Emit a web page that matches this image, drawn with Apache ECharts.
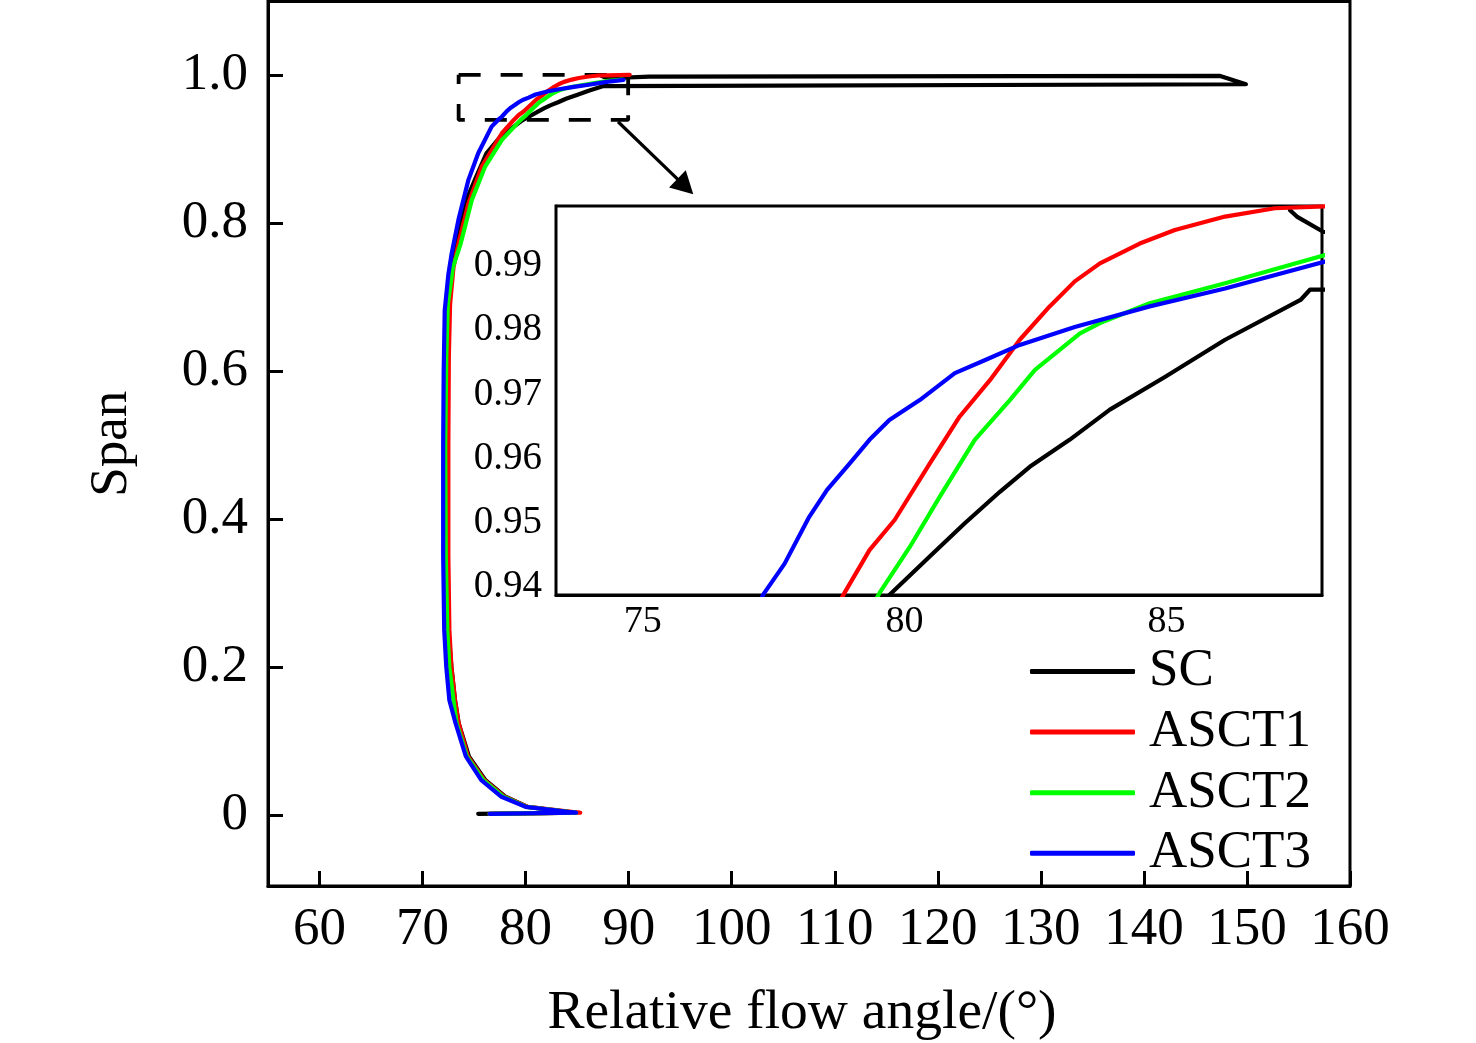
<!DOCTYPE html>
<html><head><meta charset="utf-8">
<script src="https://cdn.jsdelivr.net/npm/echarts@6/dist/echarts.min.js"></script>
<style>html,body{margin:0;padding:0;background:#fff}#c{width:1476px;height:1043px}</style>
</head><body><div id="c"></div>
<script>
// ---------- data ----------
const seriesNames = ['SC', 'ASCT1', 'ASCT2', 'ASCT3'];
const seriesColors = ['#000000', '#ff0000', '#00ff00', '#0000ff'];

const scAngle = [75.4, 84.8, 80.2, 78.0, 76.1, 74.5, 73.5, 73.15, 72.8, 72.5, 72.4, 72.4, 72.4, 72.5, 72.9, 73.3, 74.1, 75.2, 76.2, 77.6, 79.71, 80.48, 81.15, 81.82, 82.39, 83.15, 83.92, 84.97, 86.12, 87.56, 87.74, 149.9, 147.4, 92.0, 88.0, 87.49, 87.36];
const scSpan  = [0.0015, 0.003, 0.011, 0.025, 0.047, 0.079, 0.124, 0.155, 0.2, 0.25, 0.35, 0.5, 0.62, 0.69, 0.74, 0.772, 0.826, 0.862, 0.894, 0.917, 0.9387, 0.9447, 0.9499, 0.9548, 0.9587, 0.9629, 0.9676, 0.9727, 0.9785, 0.9847, 0.9863, 0.9872, 0.9985, 0.9975, 0.9953, 0.9977, 0.9987];

const asct1Angle = [76.5, 85.3, 80.2, 77.9, 76.0, 74.4, 73.5, 73.15, 72.8, 72.6, 72.5, 72.5, 72.55, 72.67, 73.0, 73.48, 74.45, 75.75, 77.7, 78.85, 79.33, 79.81, 80.48, 81.05, 81.63, 82.20, 82.77, 83.25, 83.73, 84.49, 85.16, 86.12, 87.07, 88.03, 90.1];
const asct1Span  = [0.0015, 0.003, 0.011, 0.025, 0.047, 0.079, 0.124, 0.155, 0.2, 0.25, 0.35, 0.5, 0.62, 0.69, 0.74, 0.772, 0.826, 0.876, 0.921, 0.939, 0.9457, 0.9504, 0.9592, 0.9665, 0.9722, 0.9785, 0.9837, 0.9876, 0.9904, 0.9935, 0.9956, 0.9977, 0.9990, 0.9993, 1.0];

const asct2Angle = [76.5, 84.9, 80.1, 77.8, 75.9, 74.3, 73.3, 73.0, 72.6, 72.4, 72.25, 72.2, 72.3, 72.45, 72.95, 73.7, 74.78, 76.07, 77.7, 79.52, 80.10, 80.67, 81.34, 82.01, 82.49, 83.35, 83.73, 84.68, 86.12, 88.03, 89.4];
const asct2Span  = [0.0015, 0.003, 0.011, 0.025, 0.047, 0.079, 0.124, 0.155, 0.2, 0.25, 0.35, 0.5, 0.62, 0.69, 0.74, 0.772, 0.831, 0.876, 0.912, 0.939, 0.9462, 0.954, 0.9629, 0.9691, 0.9738, 0.9795, 0.9811, 0.9842, 0.9873, 0.9917, 0.9935];

const asct3Angle = [76.5, 84.9, 80.0, 77.6, 75.7, 74.2, 73.2, 72.6, 72.3, 72.1, 72.0, 72.0, 72.05, 72.15, 72.5, 72.83, 73.48, 74.45, 75.4, 76.7, 77.32, 77.71, 78.18, 78.52, 78.95, 79.33, 79.71, 80.29, 80.96, 81.53, 82.20, 83.25, 84.68, 86.12, 88.03, 89.5];
const asct3Span  = [0.0015, 0.003, 0.011, 0.025, 0.047, 0.079, 0.124, 0.155, 0.2, 0.25, 0.35, 0.5, 0.6, 0.682, 0.73, 0.759, 0.804, 0.858, 0.894, 0.930, 0.939, 0.9436, 0.9509, 0.9551, 0.9592, 0.9629, 0.966, 0.9691, 0.9733, 0.9753, 0.9777, 0.9805, 0.9837, 0.9865, 0.9907, 0.9932];

const mainXTicks = [60, 70, 80, 90, 100, 110, 120, 130, 140, 150, 160];
const mainYTicks = [0, 0.2, 0.4, 0.6, 0.8, 1.0];
const insetXTicks = [75, 80, 85];
const insetYTicks = [0.94, 0.95, 0.96, 0.97, 0.98, 0.99];

const zoomBoxX = [73.5, 89.95];
const zoomBoxY = [0.939, 1.0];
const arrowFrom = [88.97, 0.9365];
const arrowTo = [95.5, 0.849];

// ---------- build ----------
const FONT = 'Liberation Serif';
const allAngles = [scAngle, asct1Angle, asct2Angle, asct3Angle];
const allSpans = [scSpan, asct1Span, asct2Span, asct3Span];
const pairs = (a, s) => a.map((v, i) => [v, s[i]]);

const series = [];
[0, 1].forEach(function (g) {
  seriesNames.forEach(function (name, k) {
    series.push({
      type: 'line', name: name, xAxisIndex: g, yAxisIndex: g,
      data: pairs(allAngles[k], allSpans[k]),
      symbol: 'none', showSymbol: false, clip: true, silent: true,
      lineStyle: { color: seriesColors[k], width: 4.2, cap: 'round', join: 'round' },
      itemStyle: { color: seriesColors[k] },
      emphasis: { disabled: true },
      z: 3 + k
    });
  });
});
series.push({
  type: 'line', name: 'zoomBox', xAxisIndex: 0, yAxisIndex: 0,
  data: [[zoomBoxX[0], zoomBoxY[1]], [zoomBoxX[1], zoomBoxY[1]], [zoomBoxX[1], zoomBoxY[0]], [zoomBoxX[0], zoomBoxY[0]], [zoomBoxX[0], zoomBoxY[1]]],
  symbol: 'none', silent: true,
  lineStyle: { color: '#000', width: 3.8, type: [22, 20] },
  emphasis: { disabled: true },
  z: 2,
  markLine: {
    silent: true, symbol: ['none', 'triangle'], symbolSize: [24, 22],
    label: { show: false },
    lineStyle: { color: '#000', width: 3.2, type: 'solid' },
    emphasis: { disabled: true },
    animation: false,
    data: [[{ coord: arrowFrom }, { coord: arrowTo }]]
  }
});

const chart = echarts.init(document.getElementById('c'), null, { renderer: 'canvas' });
chart.setOption({
  animation: false,
  backgroundColor: '#fff',
  legend: {
    data: seriesNames, orient: 'vertical', left: 1030, top: 645, padding: 0,
    icon: 'roundRect', itemWidth: 105, itemHeight: 5, itemGap: 7.6,
    itemStyle: { borderWidth: 0 },
    textStyle: { fontFamily: FONT, fontSize: 53, color: '#000', lineHeight: 50, padding: [0, 0, 0, 9] },
    selectedMode: false
  },
  grid: [
    { left: 268, top: 1.5, width: 1082, height: 884.5, show: true, borderColor: '#000', borderWidth: 3, backgroundColor: 'transparent', containLabel: false, outerBoundsMode: 'none' },
    { left: 556, top: 206, width: 766, height: 389, show: true, borderColor: '#000', borderWidth: 3, backgroundColor: '#fff', containLabel: false, outerBoundsMode: 'none', z: 1 }
  ],
  xAxis: [
    {
      type: 'value', gridIndex: 0, min: 55, max: 160,
      name: 'Relative flow angle/(°)', nameLocation: 'middle', nameGap: 99,
      nameTextStyle: { fontFamily: FONT, fontSize: 55.5, color: '#000', padding: [0, 14, 0, 0] },
      axisLine: { show: true, onZero: false, lineStyle: { color: '#000', width: 3 } },
      axisTick: { show: true, inside: true, length: 15, customValues: mainXTicks, lineStyle: { color: '#000', width: 3 } },
      axisLabel: { show: true, customValues: mainXTicks, margin: 18, fontFamily: FONT, fontSize: 53, color: '#000' },
      splitLine: { show: false }
    },
    {
      type: 'value', gridIndex: 1, min: 73.345, max: 87.97,
      axisLine: { show: true, onZero: false, lineStyle: { color: '#000', width: 3 } },
      axisTick: { show: true, inside: true, length: 9, customValues: insetXTicks, lineStyle: { color: '#000', width: 3 } },
      axisLabel: { show: true, customValues: insetXTicks, margin: 8, fontFamily: FONT, fontSize: 38, color: '#000' },
      splitLine: { show: false }
    }
  ],
  yAxis: [
    {
      type: 'value', gridIndex: 0, min: -0.096, max: 1.099,
      name: 'Span', nameLocation: 'middle', nameGap: 129,
      nameTextStyle: { fontFamily: FONT, fontSize: 53, color: '#000' },
      axisLine: { show: true, onZero: false, lineStyle: { color: '#000', width: 3 } },
      axisTick: { show: true, inside: true, length: 15, customValues: mainYTicks, lineStyle: { color: '#000', width: 3 } },
      axisLabel: { show: true, customValues: mainYTicks, margin: 20, fontFamily: FONT, fontSize: 53, color: '#000',
        formatter: function (v) { return Math.abs(v) < 1e-9 ? '0' : v.toFixed(1); } },
      splitLine: { show: false }
    },
    {
      type: 'value', gridIndex: 1, min: 0.93871, max: 0.99935,
      axisLine: { show: true, onZero: false, lineStyle: { color: '#000', width: 3 } },
      axisTick: { show: true, inside: true, length: 9, customValues: insetYTicks, lineStyle: { color: '#000', width: 3 } },
      axisLabel: { show: true, customValues: insetYTicks, margin: 14, fontFamily: FONT, fontSize: 39, color: '#000',
        formatter: function (v) { return v.toFixed(2); } },
      splitLine: { show: false }
    }
  ],
  series: series
});
</script></body></html>
